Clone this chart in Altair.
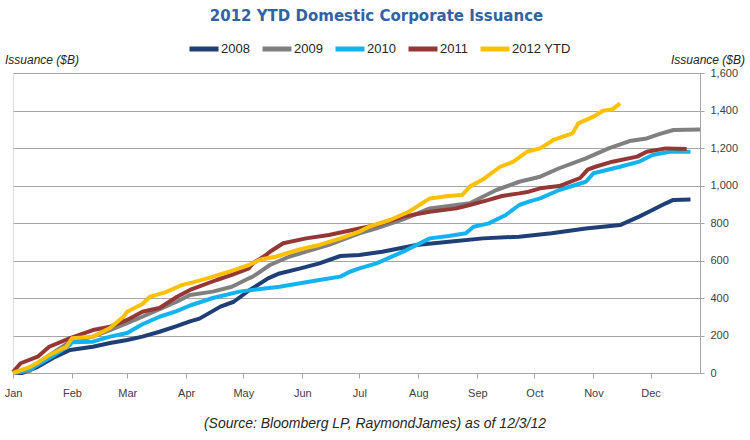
import altair as alt
import pandas as pd

# Cumulative domestic corporate issuance ($B) by day of year, one series per year
SERIES = ["2008", "2009", "2010", "2011", "2012 YTD"]
COLORS = ["#1F3F77", "#808080", "#12B3EE", "#953735", "#FFC000"]

DAYS_2008 = [0, 5, 13, 21, 30, 42, 51, 60, 68, 77, 86, 93, 98, 109, 116, 124, 134, 140, 151, 161,
             172, 182, 194, 212, 229, 247, 266, 283, 301, 319, 329, 336, 343, 347, 356]
VALS_2008 = [0, 0, 33, 80, 123, 140, 160, 176, 194, 220, 250, 275, 290, 354, 380, 440, 505, 531, 558, 585,
             624, 629, 647, 683, 700, 718, 727, 745, 771, 789, 834, 869, 905, 923, 925]

DAYS_2009 = [0, 9, 13, 21, 30, 42, 51, 60, 68, 77, 86, 93, 105, 115, 124, 126, 135, 145, 154, 166,
             182, 191, 205, 219, 229, 240, 254, 266, 277, 287, 301, 313, 324, 333, 340, 347, 361]
VALS_2009 = [0, 12, 53, 107, 167, 194, 229, 266, 300, 340, 380, 416, 434, 460, 505, 514, 576, 620, 647, 683,
             745, 771, 819, 878, 891, 905, 976, 1020, 1047, 1092, 1145, 1198, 1237, 1251, 1275, 1296, 1299]

DAYS_2010 = [0, 9, 21, 30, 31, 42, 51, 60, 68, 77, 86, 93, 105, 119, 140, 161, 172, 177, 182, 191,
             205, 219, 229, 238, 242, 250, 259, 266, 271, 277, 287, 301, 305, 319, 329, 336, 345, 356]
VALS_2010 = [0, 20, 90, 150, 164, 167, 194, 213, 260, 300, 330, 360, 400, 434, 460, 496, 514, 540, 558, 585,
             647, 718, 731, 745, 780, 798, 843, 896, 914, 931, 976, 1020, 1065, 1100, 1127, 1163, 1180, 1180]

DAYS_2011 = [0, 4, 13, 19, 30, 42, 51, 60, 68, 72, 77, 86, 93, 107, 115, 124, 126, 133, 135, 142,
             154, 166, 182, 191, 205, 219, 233, 240, 250, 257, 266, 271, 277, 287, 298, 302, 306, 315, 328, 333,
             343, 354]
VALS_2011 = [5, 52, 87, 140, 186, 229, 247, 283, 327, 336, 347, 405, 443, 496, 523, 558, 585, 629, 647, 692,
             718, 736, 771, 789, 834, 860, 878, 896, 923, 944, 958, 967, 985, 997, 1040, 1085, 1100, 1127, 1154, 1180,
             1198, 1195]

DAYS_2012 = [0, 9, 13, 19, 28, 31, 42, 51, 58, 60, 68, 72, 80, 89, 94, 104, 108, 116, 124, 130,
             138, 151, 161, 172, 182, 187, 198, 208, 219, 229, 236, 240, 247, 256, 263, 270, 277, 284, 294, 297,
             305, 310, 315, 319]
VALS_2012 = [0, 33, 55, 95, 140, 185, 194, 240, 300, 327, 368, 407, 430, 470, 482, 510, 523, 549, 576, 605,
             620, 660, 683, 718, 754, 780, 816, 860, 931, 944, 949, 994, 1033, 1100, 1127, 1180, 1198, 1243, 1278, 1331,
             1367, 1399, 1406, 1438]

# Month starts (day of year, leap year) and their labels
MONTH_DAYS = [0, 31, 60, 91, 121, 152, 182, 213, 244, 274, 305, 335]
MONTH_LABELS = ["Jan", "Feb", "Mar", "Apr", "May", "Jun", "Jul", "Aug", "Sep", "Oct", "Nov", "Dec"]
Y_TICKS = [0, 200, 400, 600, 800, 1000, 1200, 1400, 1600]

TITLE = "2012 YTD Domestic Corporate Issuance"
Y_TITLE = "Issuance ($B)"
FOOTNOTE = "(Source: Bloomberg LP, RaymondJames) as of 12/3/12"

frames = []
for name, days, vals in zip(
    SERIES,
    [DAYS_2008, DAYS_2009, DAYS_2010, DAYS_2011, DAYS_2012],
    [VALS_2008, VALS_2009, VALS_2010, VALS_2011, VALS_2012],
):
    frames.append(pd.DataFrame({"day": days, "value": vals, "series": name}))
df = pd.concat(frames, ignore_index=True)

label_expr = "{" + ", ".join(f"'{d}': '{m}'" for d, m in zip(MONTH_DAYS, MONTH_LABELS)) + "}[datum.value]"

W, H = 687, 300

lines = alt.Chart(df).mark_line(strokeWidth=4, strokeJoin="round").encode(
    x=alt.X(
        "day:Q",
        scale=alt.Scale(domain=[0, 361], nice=False, zero=False),
        axis=alt.Axis(
            values=MONTH_DAYS,
            labelExpr=label_expr,
            title=None,
            grid=False,
            domainColor="#A6A6A6",
            tickColor="#A6A6A6",
            tickSize=5,
            labelPadding=9,
            labelFont="Liberation Sans",
            labelFontSize=11,
            labelColor="#404040",
            labelFlush=False,
        ),
    ),
    y=alt.Y(
        "value:Q",
        scale=alt.Scale(domain=[0, 1600], nice=False),
        axis=alt.Axis(
            orient="right",
            values=Y_TICKS,
            format=",d",
            title=None,
            grid=True,
            gridColor="#A6A6A6",
            gridWidth=1,
            domainColor="#A6A6A6",
            tickColor="#A6A6A6",
            tickSize=4,
            labelPadding=6,
            labelAlign="left",
            labelFont="Liberation Sans",
            labelFontSize=11,
            labelColor="#404040",
        ),
    ),
    color=alt.Color(
        "series:N",
        scale=alt.Scale(domain=SERIES, range=COLORS),
        legend=alt.Legend(
            orient="none",
            legendX=174,
            legendY=-41,
            direction="horizontal",
            title=None,
            symbolType="stroke",
            symbolStrokeWidth=5,
            symbolSize=841,
            labelFont="Liberation Sans",
            labelFontSize=13,
            labelColor="#262626",
            labelOffset=0,
            columnPadding=2,
            padding=0,
        ),
    ),
    order=alt.Order("day:Q"),
)

left_title = alt.Chart(pd.DataFrame({"t": [Y_TITLE]})).mark_text(
    align="left", baseline="middle", font="Liberation Sans", fontStyle="italic",
    fontSize=12, color="#262626",
).encode(text="t:N", x=alt.value(-8), y=alt.value(-13))

right_title = alt.Chart(pd.DataFrame({"t": [Y_TITLE]})).mark_text(
    align="right", baseline="middle", font="Liberation Sans", fontStyle="italic",
    fontSize=12, color="#262626",
).encode(text="t:N", x=alt.value(732), y=alt.value(-13))

footnote = alt.Chart(pd.DataFrame({"t": [FOOTNOTE]})).mark_text(
    align="center", baseline="middle", font="Liberation Sans", fontStyle="italic",
    fontSize=14, color="#262626",
).encode(text="t:N", x=alt.value(362), y=alt.value(351))

chart = alt.layer(lines, left_title, right_title, footnote).properties(
    width=W,
    height=H,
    title=alt.TitleParams(
        TITLE,
        font="DejaVu Sans",
        fontSize=15,
        fontWeight="bold",
        color="#2F62A6",
        anchor="middle",
        dx=20,
        offset=8,
    ),
    autosize=alt.AutoSizeParams(type="none"),
    padding={"left": 13, "top": 73, "right": 50, "bottom": 67},
).configure_view(
    fill="#D9D9D9",
    stroke=None,
).configure(
    background="white",
)

chart.save("out.html", embed_options={"renderer": "svg", "actions": False})
